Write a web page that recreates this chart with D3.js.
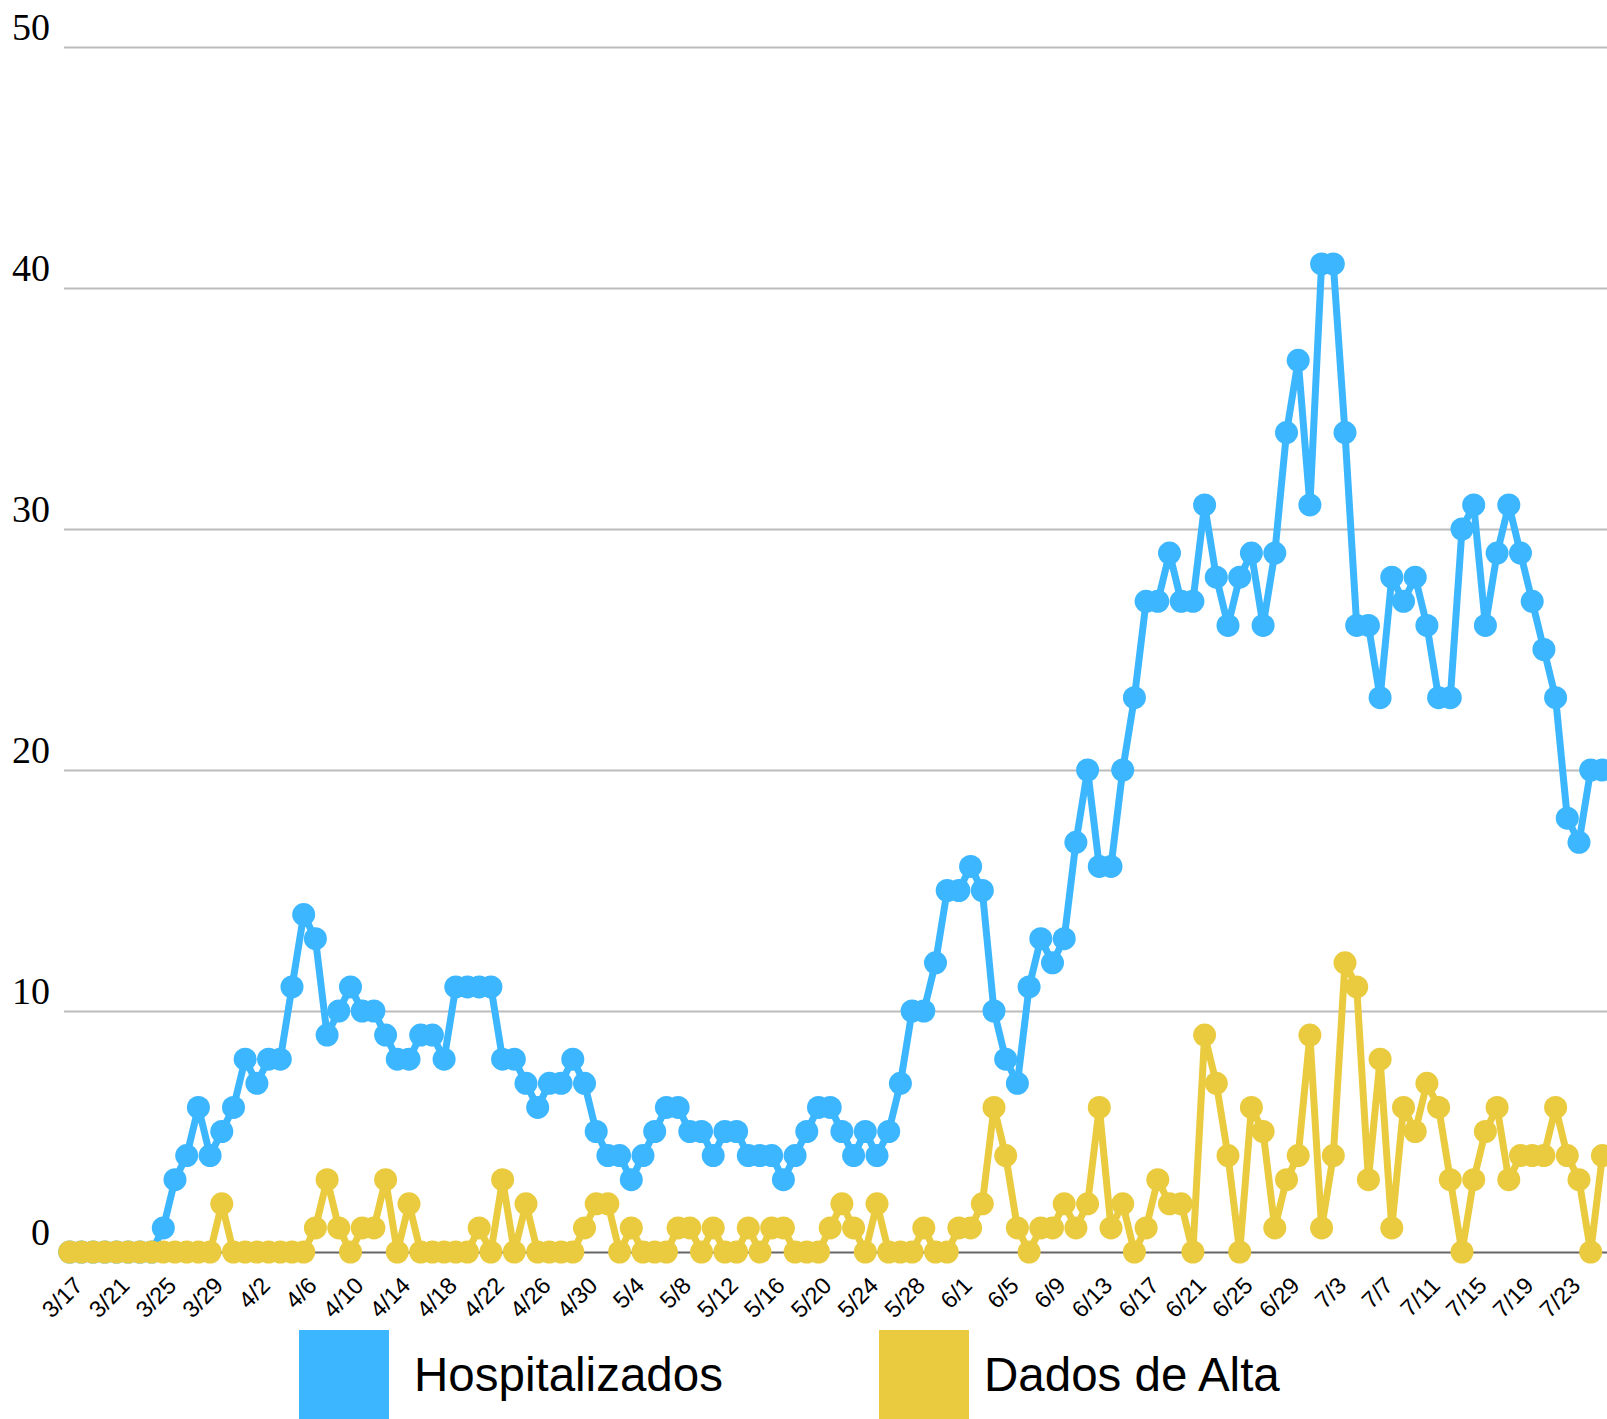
<!DOCTYPE html>
<html>
<head>
<meta charset="utf-8">
<script src="https://cdn.jsdelivr.net/npm/d3@7"></script>
<style>
  body { margin: 0; background: #fff; }
  svg { display: block; }
</style>
</head>
<body>
<div id="chart"></div>
<script>
// dates (one point per day)
var dates = [
  "3/17","3/18","3/19","3/20","3/21","3/22","3/23","3/24","3/25","3/26","3/27","3/28","3/29","3/30","3/31",
  "4/1","4/2","4/3","4/4","4/5","4/6","4/7","4/8","4/9","4/10","4/11","4/12","4/13","4/14","4/15",
  "4/16","4/17","4/18","4/19","4/20","4/21","4/22","4/23","4/24","4/25","4/26","4/27","4/28","4/29","4/30",
  "5/1","5/2","5/3","5/4","5/5","5/6","5/7","5/8","5/9","5/10","5/11","5/12","5/13","5/14","5/15","5/16",
  "5/17","5/18","5/19","5/20","5/21","5/22","5/23","5/24","5/25","5/26","5/27","5/28","5/29","5/30","5/31",
  "6/1","6/2","6/3","6/4","6/5","6/6","6/7","6/8","6/9","6/10","6/11","6/12","6/13","6/14","6/15",
  "6/16","6/17","6/18","6/19","6/20","6/21","6/22","6/23","6/24","6/25","6/26","6/27","6/28","6/29","6/30",
  "7/1","7/2","7/3","7/4","7/5","7/6","7/7","7/8","7/9","7/10","7/11","7/12","7/13","7/14","7/15",
  "7/16","7/17","7/18","7/19","7/20","7/21","7/22","7/23","7/24","7/25","7/26"
];

var hospitalizados = [
  0,0,0,0,0,0,0,0,
  1,3,4,6,4,5,6,8,7,8,
  8,11,14,13,9,10,11,10,10,9,
  8,8,9,9,8,11,11,11,11,8,
  8,7,6,7,7,8,7,5,4,4,
  3,4,5,6,6,5,5,4,5,5,
  4,4,4,3,4,5,6,6,5,4,
  5,4,5,7,10,10,12,15,15,16,
  15,10,8,7,11,13,12,13,17,20,
  16,16,20,23,27,27,29,27,27,31,
  28,26,28,29,26,29,34,37,31,41,
  41,34,26,26,23,28,27,28,26,23,
  23,30,31,26,29,31,29,27,25,23,
  18,17,20,20
];

var dadosDeAlta = [
  0,0,0,0,0,0,0,0,0,0,0,0,0,2,
  0,0,0,0,0,0,0,
  1,3,1,0,1,1,3,0,2,0,
  0,0,0,0,1,0,3,0,2,0,
  0,0,0,1,2,2,0,1,0,0,
  0,1,1,0,1,0,0,1,0,1,
  1,0,0,0,1,2,1,0,2,0,
  0,0,1,0,0,1,1,2,6,4,
  1,0,1,1,2,1,2,6,1,2,
  0,1,3,2,2,0,9,7,4,0,
  6,5,1,3,4,9,1,4,12,11,
  3,8,1,6,5,7,6,3,0,3,
  5,6,3,4,4,4,6,4,3,0,
  4
];

var xTickLabels = ["3/17","3/21","3/25","3/29","4/2","4/6","4/10","4/14","4/18","4/22","4/26","4/30",
  "5/4","5/8","5/12","5/16","5/20","5/24","5/28","6/1","6/5","6/9","6/13","6/17","6/21","6/25","6/29",
  "7/3","7/7","7/11","7/15","7/19","7/23"];
var yTicks = [0, 10, 20, 30, 40, 50];

var seriesNames = ["Hospitalizados", "Dados de Alta"];
var colors = ["#3bb6ff", "#eacb40"];

var W = 1607, H = 1419;
var plotLeft = 64;

var svg = d3.select("#chart").append("svg")
  .attr("width", W)
  .attr("height", H);

var x = d3.scalePoint()
  .domain(dates)
  .range([69.7, 69.7 + 11.7 * (dates.length - 1)]);

var y = d3.scaleLinear()
  .domain([0, 50])
  .range([1252, 47]);

// gridlines + y labels
var yAxis = svg.append("g")
  .attr("transform", "translate(" + plotLeft + ",0)")
  .call(d3.axisLeft(y).tickValues(yTicks).tickSize(-(W - plotLeft)).tickPadding(14));
yAxis.select(".domain").remove();
yAxis.selectAll(".tick line")
  .attr("stroke", function(d) { return d === 0 ? "#666666" : "#bcbcbc"; })
  .attr("stroke-width", 2);
yAxis.selectAll(".tick text")
  .attr("dy", "-8px")
  .attr("fill", "#000")
  .style("font-family", "'Liberation Serif', 'Times New Roman', serif")
  .style("font-size", "38px");

// x labels
var xAxis = svg.append("g")
  .attr("transform", "translate(0,1252)")
  .call(d3.axisBottom(x).tickValues(xTickLabels).tickSize(0));
xAxis.select(".domain").remove();
xAxis.selectAll(".tick text")
  .attr("y", 0)
  .attr("dy", 0)
  .attr("fill", "#000")
  .attr("text-anchor", "end")
  .attr("transform", "translate(14,35) rotate(-45)")
  .style("font-family", "'Liberation Sans', Arial, sans-serif")
  .style("font-size", "23.5px");

// series
var series = [hospitalizados, dadosDeAlta];
series.forEach(function(values, k) {
  var pts = values.map(function(v, i) { return { d: dates[i], v: v }; });
  svg.append("path")
    .datum(pts)
    .attr("fill", "none")
    .attr("stroke", colors[k])
    .attr("stroke-width", 7)
    .attr("stroke-linejoin", "round")
    .attr("d", d3.line()
      .x(function(p) { return x(p.d); })
      .y(function(p) { return y(p.v); }));
  svg.selectAll(".dot" + k)
    .data(pts)
    .enter()
    .append("circle")
      .attr("cx", function(p) { return x(p.d); })
      .attr("cy", function(p) { return y(p.v); })
      .attr("r", 11.5)
      .attr("fill", colors[k]);
});

// legend
var legendX = [299, 879];
var legendTextX = [115, 105];
var legend = svg.selectAll(".legend")
  .data(seriesNames)
  .enter()
  .append("g")
    .attr("transform", function(d, i) { return "translate(" + legendX[i] + ",1330)"; });
legend.append("rect")
  .attr("width", 90)
  .attr("height", 90)
  .attr("fill", function(d, i) { return colors[i]; });
legend.append("text")
  .attr("x", function(d, i) { return legendTextX[i]; })
  .attr("y", 61)
  .style("font-family", "'Liberation Sans', Arial, sans-serif")
  .style("font-size", "47.5px")
  .attr("fill", "#000")
  .text(function(d) { return d; });
</script>
</body>
</html>
